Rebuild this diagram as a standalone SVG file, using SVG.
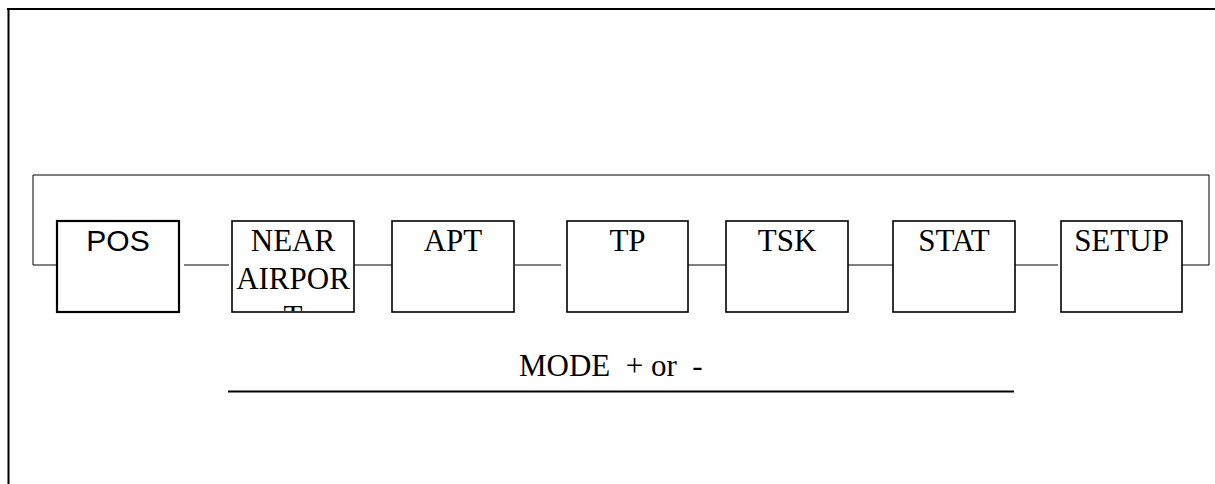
<svg xmlns="http://www.w3.org/2000/svg" width="1215" height="484" viewBox="0 0 1215 484">
  <style>
    .box { fill: #ffffff; stroke: #000000; stroke-width: 1.6; }
    .box-bold { fill: #ffffff; stroke: #000000; stroke-width: 2.2; }
    .lbl { font-family: "Liberation Serif", "Times New Roman", serif; font-size: 31px; fill: #000000; text-anchor: middle; }
    .lbl-sans { font-family: "Liberation Sans", Arial, sans-serif; font-size: 30px; fill: #000000; text-anchor: middle; }
    .conn { fill: none; stroke: #000000; stroke-width: 1; }
    .frame { fill: none; stroke: #000000; stroke-width: 2; }
    .caption { font-family: "Liberation Serif", "Times New Roman", serif; font-size: 31px; fill: #000000; white-space: pre; }
  </style>
  <defs>
    <clipPath id="clipNear">
      <rect x="232" y="221" width="122" height="90"/>
    </clipPath>
  </defs>
  <rect x="0" y="0" width="1215" height="484" fill="#ffffff"/>

  <g id="frame">
    <line class="frame" x1="7" y1="9" x2="1215" y2="9"/>
    <line class="frame" x1="8.5" y1="8" x2="8.5" y2="484"/>
  </g>

  <g id="connectors">
    <path class="conn" d="M63,265 H33 V175 H1209 V265 H1178"/>
    <line class="conn" x1="184" y1="265" x2="229" y2="265"/>
    <line class="conn" x1="354" y1="265" x2="395" y2="265"/>
    <line class="conn" x1="515" y1="265" x2="561" y2="265"/>
    <line class="conn" x1="681" y1="265" x2="726" y2="265"/>
    <line class="conn" x1="848" y1="265" x2="893" y2="265"/>
    <line class="conn" x1="1012" y1="265" x2="1058" y2="265"/>
  </g>

  <g id="node-pos">
    <rect class="box-bold" x="57" y="221" width="122" height="91"/>
    <text class="lbl-sans" x="118" y="251">POS</text>
  </g>
  <g id="node-near">
    <rect class="box" x="232" y="221" width="122" height="91"/>
    <g clip-path="url(#clipNear)">
      <text class="lbl" x="293" y="251">NEAR</text>
      <text class="lbl" x="293" y="288.5">AIRPOR</text>
      <text class="lbl" x="293" y="326.5">T</text>
    </g>
  </g>
  <g id="node-apt">
    <rect class="box" x="392" y="221" width="122" height="91"/>
    <text class="lbl" x="453" y="251">APT</text>
  </g>
  <g id="node-tp">
    <rect class="box" x="567" y="221" width="121" height="91"/>
    <text class="lbl" x="627.5" y="251">TP</text>
  </g>
  <g id="node-tsk">
    <rect class="box" x="726" y="221" width="122" height="91"/>
    <text class="lbl" x="787" y="251">TSK</text>
  </g>
  <g id="node-stat">
    <rect class="box" x="893" y="221" width="122" height="91"/>
    <text class="lbl" x="954" y="251">STAT</text>
  </g>
  <g id="node-setup">
    <rect class="box" x="1061" y="221" width="121" height="91"/>
    <text class="lbl" x="1121.5" y="251">SETUP</text>
  </g>

  <g id="mode-caption">
    <text class="caption" x="519" y="376" xml:space="preserve">MODE  + or  -</text>
    <line x1="228" y1="391.5" x2="1014" y2="391.5" stroke="#000000" stroke-width="2"/>
  </g>
</svg>
